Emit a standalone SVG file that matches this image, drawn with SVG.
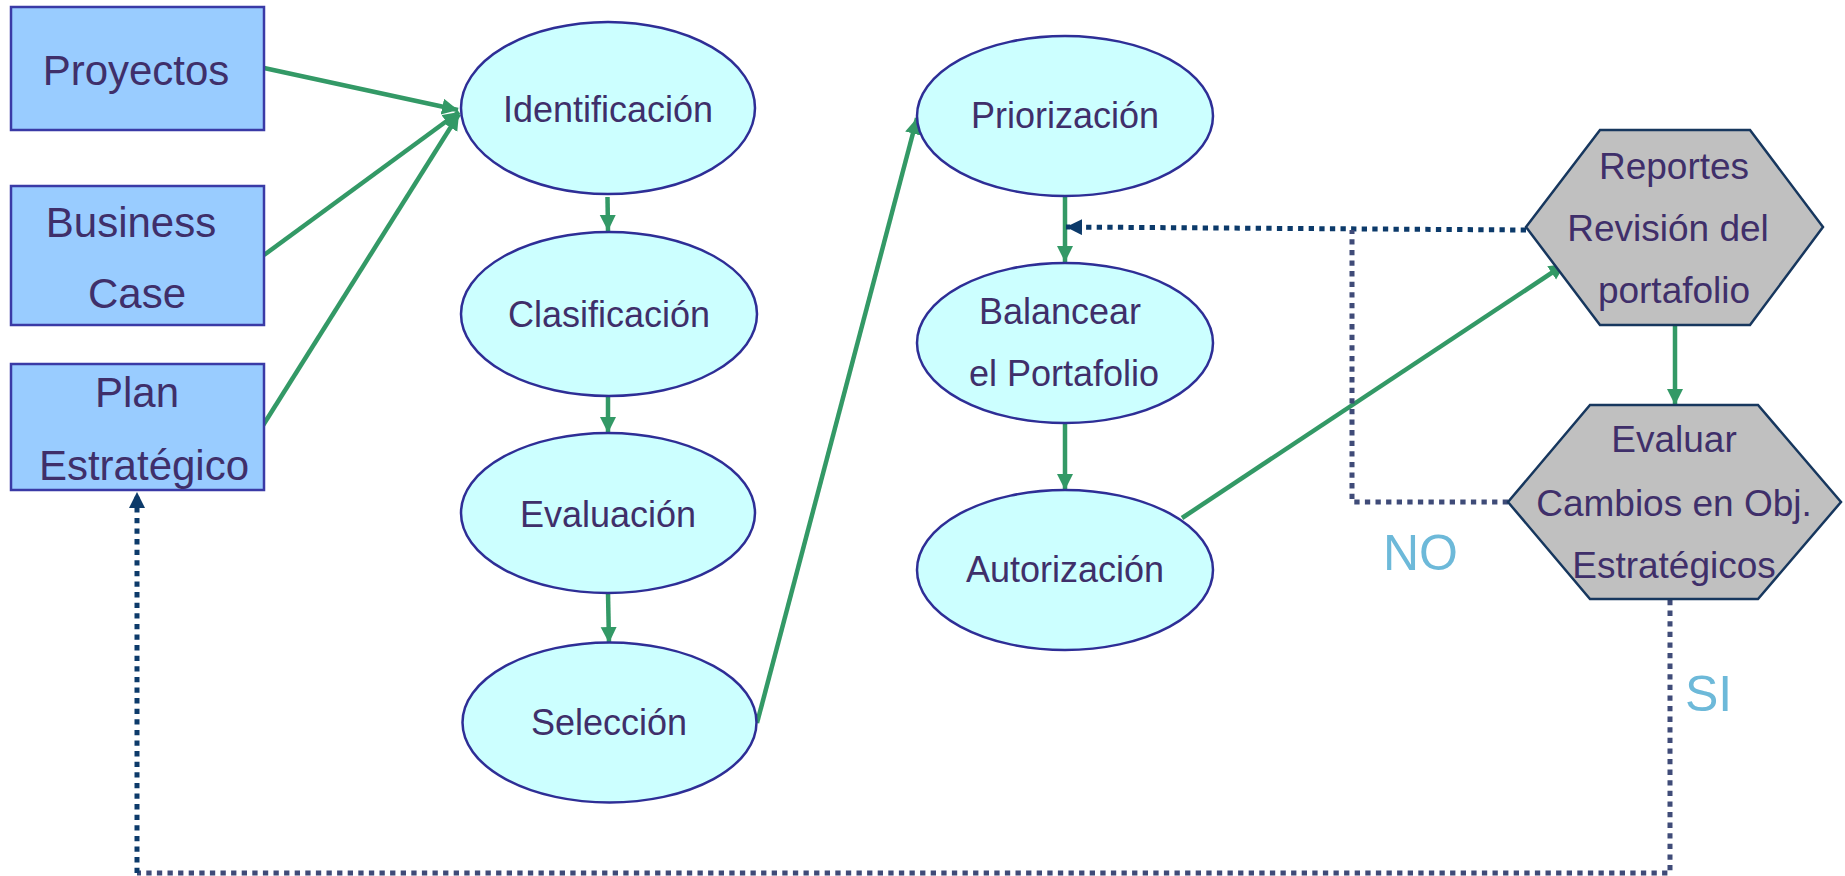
<svg xmlns="http://www.w3.org/2000/svg" width="1845" height="876" viewBox="0 0 1845 876">
<style>
text{font-family:"Liberation Sans",Arial,sans-serif;fill:#3F2F6A;text-anchor:middle}
.box{fill:#99CCFF;stroke:#3A3AA6;stroke-width:2.5}
.ell{fill:#CCFFFF;stroke:#2E2E96;stroke-width:2.5}
.hex{fill:#C0C0C0;stroke:#17375E;stroke-width:2.5}
.bt{font-size:42px}
.et{font-size:36px}
.ht{font-size:37px}
.lbl{font-size:50px;fill:#6DB9D9;text-anchor:start}
.g{fill:none;stroke:#339966;stroke-width:4.5}
.d1{fill:none;stroke:#0C3A6A;stroke-width:5;stroke-dasharray:5.3 5.3}
.d2{fill:none;stroke:#3F4B78;stroke-width:5;stroke-dasharray:5.3 5.3}
</style>
<defs>
<marker id="ga" markerUnits="userSpaceOnUse" markerWidth="18" markerHeight="18" refX="16" refY="8" orient="auto"><path d="M0,0 L16,8 L0,16 Z" fill="#339966"/></marker>
<marker id="da" markerUnits="userSpaceOnUse" markerWidth="18" markerHeight="18" refX="16" refY="8" orient="auto"><path d="M0,0 L16,8 L0,16 Z" fill="#0C3A6A"/></marker>
</defs>
<g id="connectors">
<path class="g" d="M264,68 L458,110" marker-end="url(#ga)"/>
<path class="g" d="M264,255 L459,112" marker-end="url(#ga)"/>
<path class="g" d="M262,427 L459,114" marker-end="url(#ga)"/>
<path class="g" d="M607.5,197 L608,231" marker-end="url(#ga)"/>
<path class="g" d="M608,396 L608,433" marker-end="url(#ga)"/>
<path class="g" d="M608,593 L609,643" marker-end="url(#ga)"/>
<path class="g" d="M757,723 L917,118" marker-end="url(#ga)"/>
<path class="g" d="M1065,196 L1065,262" marker-end="url(#ga)"/>
<path class="g" d="M1065,423 L1065,490" marker-end="url(#ga)"/>
<path class="g" d="M1182,518 L1565,264" marker-end="url(#ga)"/>
<path class="g" d="M1675,325 L1675,405" marker-end="url(#ga)"/>
<path class="d1" d="M1526,230 L1066,227" marker-end="url(#da)"/>
<path class="d2" d="M1508,502 L1352,502 L1352,230"/>
<path class="d2" d="M1670,600 L1670,873 L137,873"/>
<path class="d1" d="M137,873 L137,492" marker-end="url(#da)"/>
</g>
<g id="proyectos"><rect class="box" x="11" y="7" width="253" height="123"/><text class="bt" x="136" y="85">Proyectos</text></g>
<g id="business-case"><rect class="box" x="11" y="186" width="253" height="139"/><text class="bt" x="131" y="237">Business</text><text class="bt" x="137" y="308">Case</text></g>
<g id="plan-estrategico"><rect class="box" x="11" y="364" width="253" height="126"/><text class="bt" x="137" y="407">Plan</text><text class="bt" x="144" y="480">Estratégico</text></g>
<g id="identificacion"><ellipse class="ell" cx="608" cy="108" rx="147" ry="86"/><text class="et" x="608" y="122">Identificación</text></g>
<g id="clasificacion"><ellipse class="ell" cx="609" cy="314" rx="148" ry="82"/><text class="et" x="609" y="327">Clasificación</text></g>
<g id="evaluacion"><ellipse class="ell" cx="608" cy="513" rx="147" ry="80"/><text class="et" x="608" y="527">Evaluación</text></g>
<g id="seleccion"><ellipse class="ell" cx="609.5" cy="722.5" rx="147" ry="80"/><text class="et" x="609" y="735">Selección</text></g>
<g id="priorizacion"><ellipse class="ell" cx="1065" cy="116" rx="148" ry="80"/><text class="et" x="1065" y="128">Priorización</text></g>
<g id="balancear"><ellipse class="ell" cx="1065" cy="343" rx="148" ry="80"/><text class="et" x="1060" y="324">Balancear</text><text class="et" x="1064" y="386">el Portafolio</text></g>
<g id="autorizacion"><ellipse class="ell" cx="1065" cy="570" rx="148" ry="80"/><text class="et" x="1065" y="582">Autorización</text></g>
<g id="reportes"><polygon class="hex" points="1600,130 1750,130 1823,227 1750,325 1600,325 1526,227"/><text class="ht" x="1674" y="179">Reportes</text><text class="ht" x="1668" y="241">Revisión del</text><text class="ht" x="1674" y="303">portafolio</text></g>
<g id="evaluar"><polygon class="hex" points="1590,405 1758,405 1841,502 1758,599 1590,599 1508,502"/><text class="ht" x="1674" y="452">Evaluar</text><text class="ht" x="1674" y="516">Cambios en Obj.</text><text class="ht" x="1674" y="578">Estratégicos</text></g>
<g id="labels"><text class="lbl" x="1383" y="570">NO</text><text class="lbl" x="1685" y="711">SI</text></g>
</svg>
